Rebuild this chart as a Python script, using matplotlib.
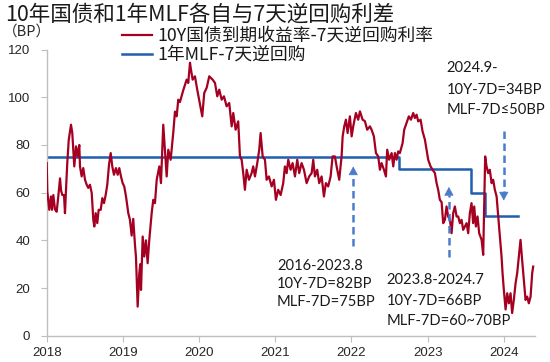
import matplotlib
matplotlib.use("Agg")
import matplotlib.pyplot as plt

# 10Y国债 - 7天逆回购 (BP), x in decimal years
spread_t = [
    2018.000, 2018.008, 2018.034, 2018.056, 2018.070, 2018.087, 2018.109, 2018.131, 2018.152, 2018.175,
    2018.188, 2018.205, 2018.227, 2018.240, 2018.253, 2018.270, 2018.289, 2018.319, 2018.336, 2018.349,
    2018.362, 2018.385, 2018.407, 2018.428, 2018.437, 2018.459, 2018.480, 2018.503, 2018.525, 2018.546,
    2018.568, 2018.591, 2018.612, 2018.625, 2018.643, 2018.664, 2018.682, 2018.709, 2018.730, 2018.752,
    2018.774, 2018.795, 2018.818, 2018.840, 2018.861, 2018.883, 2018.909, 2018.932, 2018.953, 2018.975,
    2018.997, 2019.018, 2019.041, 2019.071, 2019.093, 2019.115, 2019.136, 2019.159, 2019.172, 2019.194,
    2019.215, 2019.228, 2019.238, 2019.260, 2019.281, 2019.303, 2019.325, 2019.346, 2019.378, 2019.399,
    2019.421, 2019.444, 2019.478, 2019.500, 2019.530, 2019.549, 2019.575, 2019.596, 2019.627, 2019.661,
    2019.684, 2019.706, 2019.727, 2019.749, 2019.793, 2019.837, 2019.858, 2019.881, 2019.894, 2019.916,
    2019.946, 2019.976, 2020.012, 2020.042, 2020.068, 2020.100, 2020.134, 2020.178, 2020.209, 2020.239,
    2020.265, 2020.297, 2020.327, 2020.362, 2020.396, 2020.428, 2020.449, 2020.480, 2020.514, 2020.537,
    2020.559, 2020.580, 2020.602, 2020.625, 2020.655, 2020.690, 2020.711, 2020.734, 2020.764, 2020.790,
    2020.808, 2020.835, 2020.865, 2020.887, 2020.917, 2020.953, 2020.983, 2021.009, 2021.039, 2021.071,
    2021.105, 2021.127, 2021.150, 2021.171, 2021.202, 2021.228, 2021.259, 2021.289, 2021.315, 2021.346,
    2021.377, 2021.412, 2021.446, 2021.478, 2021.499, 2021.521, 2021.551, 2021.577, 2021.609, 2021.639,
    2021.665, 2021.695, 2021.727, 2021.753, 2021.783, 2021.806, 2021.840, 2021.871, 2021.885, 2021.906,
    2021.928, 2021.950, 2021.980, 2022.003, 2022.024, 2022.059, 2022.089, 2022.112, 2022.147, 2022.177,
    2022.207, 2022.243, 2022.265, 2022.295, 2022.322, 2022.352, 2022.374, 2022.396, 2022.427, 2022.453,
    2022.470, 2022.496, 2022.528, 2022.549, 2022.571, 2022.593, 2022.614, 2022.636, 2022.672, 2022.693,
    2022.724, 2022.754, 2022.781, 2022.811, 2022.833, 2022.856, 2022.877, 2022.908, 2022.934, 2022.965,
    2022.987, 2023.008, 2023.039, 2023.066, 2023.096, 2023.118, 2023.139, 2023.161, 2023.184, 2023.205,
    2023.227, 2023.249, 2023.270, 2023.293, 2023.315, 2023.336, 2023.358, 2023.381, 2023.402, 2023.424,
    2023.446, 2023.467, 2023.490, 2023.512, 2023.533, 2023.555, 2023.577, 2023.598, 2023.612, 2023.634,
    2023.656, 2023.677, 2023.709, 2023.730, 2023.743, 2023.756, 2023.774, 2023.795, 2023.817, 2023.840,
    2023.861, 2023.883, 2023.906, 2023.927, 2023.949, 2023.971, 2023.984, 2024.001, 2024.024, 2024.045,
    2024.067, 2024.089, 2024.110, 2024.132, 2024.155, 2024.176, 2024.198, 2024.220, 2024.241, 2024.264,
    2024.286, 2024.307, 2024.329, 2024.352, 2024.373, 2024.386,
]
spread_bp = [
    72.4, 60.5, 52.8, 58.4, 52.8, 59.0, 53.0, 52.0, 58.4, 66.0,
    61.0, 59.0, 59.0, 51.4, 61.0, 72.4, 82.0, 88.5, 85.0, 78.0,
    71.0, 79.4, 75.2, 80.0, 71.0, 66.8, 70.3, 65.4, 63.3, 62.0,
    63.3, 59.8, 48.6, 45.8, 51.4, 47.2, 52.8, 52.8, 57.7, 55.6,
    59.0, 63.3, 71.7, 76.6, 71.0, 67.5, 70.3, 67.5, 70.3, 66.8,
    64.0, 62.6, 58.4, 51.4, 48.6, 42.0, 49.0, 38.0, 33.0, 12.2,
    26.0, 30.0, 19.2, 41.6, 33.2, 40.0, 30.4, 40.0, 51.4, 57.0,
    55.6, 65.4, 71.0, 64.0, 88.5, 79.4, 66.8, 78.0, 73.8, 85.0,
    94.0, 92.0, 99.0, 98.0, 103.0, 107.4, 106.0, 114.5, 111.6, 107.4,
    108.8, 103.2, 97.0, 92.0, 101.8, 104.0, 108.8, 107.4, 106.0, 100.4,
    103.2, 99.0, 100.4, 96.2, 97.6, 87.8, 93.4, 86.4, 89.9, 75.2,
    73.8, 68.2, 61.2, 69.6, 65.4, 68.2, 71.0, 66.8, 72.4, 78.0,
    85.0, 75.2, 73.8, 65.4, 66.8, 62.6, 65.4, 57.0, 61.2, 59.0,
    64.0, 71.0, 68.2, 73.8, 69.6, 72.4, 66.8, 73.8, 68.2, 72.4,
    69.6, 64.0, 66.8, 68.2, 73.8, 66.8, 69.6, 64.0, 66.8, 58.4,
    64.0, 62.6, 66.8, 75.2, 75.2, 71.0, 65.4, 75.2, 83.6, 87.8,
    90.6, 85.0, 92.0, 83.6, 87.8, 93.4, 90.6, 94.1, 90.6, 90.0,
    86.4, 87.8, 86.4, 83.6, 76.6, 75.2, 69.6, 72.4, 69.6, 66.8,
    78.0, 73.8, 76.6, 71.0, 76.6, 73.8, 77.3, 76.6, 80.8, 86.4,
    89.2, 92.0, 90.6, 93.4, 91.3, 92.7, 89.9, 90.6, 85.7, 82.2,
    78.0, 73.8, 71.0, 69.6, 68.2, 64.0, 61.2, 57.0, 56.0, 47.2,
    48.6, 54.2, 50.0, 48.6, 43.0, 51.4, 54.2, 50.0, 50.0, 47.2,
    48.6, 44.4, 45.8, 47.2, 43.0, 51.4, 55.6, 47.2, 54.2, 45.8,
    50.0, 43.0, 40.2, 33.9, 54.2, 75.2, 71.0, 68.2, 69.6, 64.0,
    65.4, 61.2, 58.4, 50.0, 41.6, 33.2, 26.2, 19.2, 11.0, 17.8,
    13.6, 17.8, 9.5, 15.0, 22.0, 26.2, 33.2, 40.2, 31.8, 23.4,
    15.0, 16.4, 13.6, 16.4, 26.2, 29.0,
]

# 1年MLF - 7天逆回购 (BP), step changes
mlf_t = [2018.0, 2022.627, 2023.568, 2023.752, 2024.181]
mlf_bp = [75, 70, 60, 50, 50]

years = [2018, 2019, 2020, 2021, 2022, 2023, 2024]
yticks = [0, 20, 40, 60, 80, 100, 120]

# dashed arrows: x, tail, head
arrows = [(2022.024, 37.8, 71.0), (2023.28, 32.8, 62.4), (2024.0, 85.7, 56.7)]

notes = [
    (277, [265.7, 284.0, 302.3], ["2016-2023.8", "10Y-7D=82BP", "MLF-7D=75BP"]),
    (386.7, [280.0, 301.0, 321.0], ["2023.8-2024.7", "10Y-7D=66BP", "MLF-7D=60~70BP"]),
    (446.7, [68.3, 90.0, 110.0], ["2024.9-", "10Y-7D=34BP", "MLF-7D≤50BP"]),
]

RED = "#A50021"
BLUE = "#1F5FAD"
ARROW = "#4A7CCB"
W, H = 550, 362

fig = plt.figure(figsize=(5.5, 3.62), dpi=100)
ax = fig.add_axes([46.7 / W, 1 - 335.7 / H, (535 - 46.7) / W, (335.7 - 49.6) / H])

ax.plot(spread_t, spread_bp, color=RED, lw=1.6, label="10Y国债到期收益率-7天逆回购利率", zorder=3)
ax.plot(mlf_t, mlf_bp, color=BLUE, lw=1.8, drawstyle="steps-post", label="1年MLF-7天逆回购", zorder=2)

ax.set_xlim(2018, 2024.41)
ax.set_ylim(0, 120)
ax.set_xticks(years)
ax.set_xticklabels([str(y) for y in years])
ax.set_yticks(yticks)
for s in ["top", "right"]:
    ax.spines[s].set_visible(False)
for s in ["left", "bottom"]:
    ax.spines[s].set_color("#BFBFBF")
    ax.spines[s].set_linewidth(1.0)
ax.tick_params(axis="both", direction="out", length=4, color="#BFBFBF",
               labelsize=9.5, labelcolor="#262626")
ax.tick_params(axis="y", pad=8)
ax.tick_params(axis="x", pad=4)
for lab in ax.get_xticklabels() + ax.get_yticklabels():
    lab.set_family(["Liberation Sans", "DejaVu Sans"])

# dashed arrows
head_len = 8 / 2.38
for x, tail, head in arrows:
    d = 1 if head > tail else -1
    ax.plot([x, x], [tail, head - d * head_len], color=ARROW, lw=1.8,
            linestyle=(0, (3, 1.8)), zorder=4)
    ax.annotate("", xy=(x, head), xytext=(x, head - d * head_len),
                arrowprops=dict(arrowstyle="-|>,head_width=0.3,head_length=0.55",
                                color=ARROW, lw=0.5, shrinkA=0, shrinkB=0), zorder=4)

# annotation texts
for x0, ys, lines in notes:
    for yy, t in zip(ys, lines):
        fig.text(x0 / W, 1 - yy / H, t, ha="left", va="center", fontsize=10.6,
                 family=["Lato", "DejaVu Sans"], color="#1A1A1A")

cjk = ["Noto Sans CJK SC", "DejaVu Sans"]
fig.text(5 / W, 1 - 15 / H, "10年国债和1年MLF各自与7天逆回购利差", ha="left", va="center",
         fontsize=15.5, family=cjk, color="#1A1A1A")
fig.text(3 / W, 1 - 32 / H, "（BP）", ha="left", va="center", fontsize=10.5, family=cjk,
         color="#262626")

leg = ax.legend(loc="upper left", bbox_to_anchor=(122 / W, 1 - 27 / H),
                bbox_transform=fig.transFigure, frameon=False, borderpad=0,
                borderaxespad=0, handlelength=1.7, handletextpad=0.3,
                labelspacing=0.05, prop={"family": cjk, "size": 12.8})
for t in leg.get_texts():
    t.set_color("#1A1A1A")

fig.savefig("out.png", dpi=100)
